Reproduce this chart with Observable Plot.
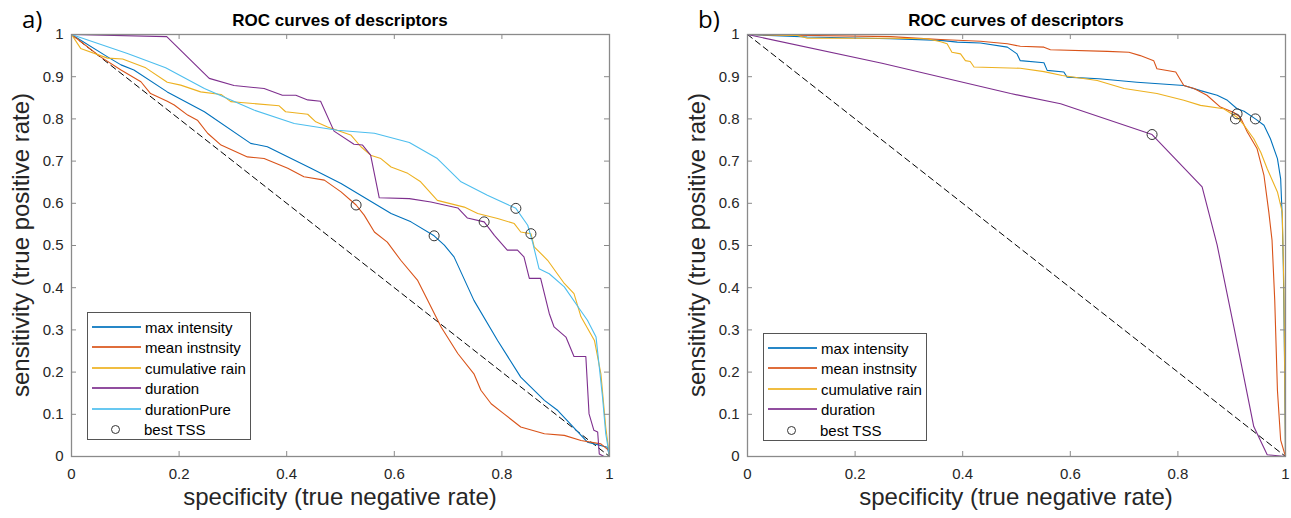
<!DOCTYPE html>
<html><head><meta charset="utf-8">
<script src="https://cdn.jsdelivr.net/npm/d3@7"></script>
<script src="https://cdn.jsdelivr.net/npm/@observablehq/plot@0.6"></script>
<style>
body{margin:0;background:#fff;font-family:"Liberation Sans",Arial,sans-serif;}
#root{position:relative;width:1291px;height:518px;overflow:hidden;background:#fff}
.panel{position:absolute;top:0}
.t{position:absolute;white-space:nowrap;color:#000;transform:translate(-50%,-50%);line-height:1}
.legend{position:absolute;border:1px solid #555;background:#fff;font-size:15px;color:#000;box-sizing:border-box}
.row{position:absolute;left:0;height:20px;display:flex;align-items:center}
.sw{width:49px;height:2px;margin-left:4px;margin-right:4px;opacity:0.85}
.circ{width:9px;height:9px;border:1px solid #333;border-radius:50%;margin-left:23px;margin-right:24px;box-sizing:border-box}
</style></head><body><div id="root"></div>
<script>
// ---------- data ----------
const seriesA = ["max intensity","mean instnsity","cumulative rain","duration","durationPure"];
const seriesB = ["max intensity","mean instnsity","cumulative rain","duration"];
const colors = ["#0072BD","#D95319","#EDB120","#7E2F8E","#4DBEEE"];
const xTicks = [0,0.2,0.4,0.6,0.8,1];
const yTicks = [0,0.1,0.2,0.3,0.4,0.5,0.6,0.7,0.8,0.9,1];
const diagX = [0,1], diagY = [1,0];

// panel a
const aMaxX = [0,0.067,0.092,0.116,0.178,0.247,0.333,0.364,0.445,0.501,0.594,0.631,0.674,0.693,0.711,0.748,0.792,0.835,0.879,0.904,0.959,0.996,1];
const aMaxY = [1,0.947,0.928,0.916,0.864,0.817,0.742,0.734,0.683,0.647,0.576,0.556,0.523,0.501,0.473,0.370,0.275,0.188,0.133,0.109,0.034,0.022,0];
const aMeanX = [0,0.054,0.092,0.129,0.147,0.178,0.191,0.216,0.234,0.253,0.278,0.327,0.358,0.402,0.432,0.470,0.501,0.529,0.544,0.563,0.587,0.612,0.643,0.662,0.687,0.718,0.748,0.761,0.780,0.804,0.835,0.879,0.916,0.947,0.984,0.999,1];
const aMeanY = [1,0.947,0.916,0.888,0.860,0.842,0.833,0.809,0.797,0.766,0.738,0.710,0.706,0.683,0.663,0.655,0.627,0.596,0.572,0.532,0.508,0.465,0.418,0.370,0.307,0.244,0.196,0.157,0.125,0.101,0.070,0.054,0.050,0.038,0.030,0.014,0];
const aCumX = [0,0.017,0.067,0.095,0.138,0.178,0.203,0.240,0.278,0.296,0.315,0.386,0.398,0.439,0.454,0.476,0.519,0.538,0.556,0.575,0.594,0.625,0.649,0.680,0.730,0.755,0.792,0.823,0.835,0.854,0.860,0.885,0.916,0.934,0.947,0.972,0.984,0.993,1];
const aCumY = [1,0.967,0.944,0.942,0.921,0.887,0.880,0.864,0.858,0.841,0.839,0.831,0.817,0.811,0.793,0.781,0.762,0.734,0.714,0.706,0.686,0.671,0.651,0.607,0.591,0.576,0.564,0.552,0.532,0.528,0.497,0.465,0.410,0.386,0.331,0.275,0.196,0.070,0];
const aDurX = [0,0.177,0.256,0.302,0.358,0.392,0.417,0.439,0.463,0.488,0.525,0.541,0.556,0.572,0.628,0.668,0.718,0.736,0.767,0.786,0.81,0.829,0.841,0.851,0.872,0.888,0.897,0.919,0.934,0.956,0.962,0.971,0.978,0.981,0.99,1];
const aDurY = [1,0.995,0.896,0.879,0.872,0.856,0.856,0.845,0.842,0.771,0.740,0.738,0.714,0.613,0.611,0.603,0.589,0.565,0.556,0.524,0.489,0.489,0.473,0.422,0.422,0.339,0.307,0.283,0.237,0.237,0.101,0.062,0.058,0.006,0,0];
const aPureX = [0,0.104,0.175,0.247,0.339,0.414,0.494,0.563,0.628,0.680,0.724,0.773,0.826,0.848,0.857,0.869,0.888,0.916,0.944,0.959,0.975,0.981,0.987,0.993,1];
const aPureY = [1,0.955,0.921,0.872,0.821,0.789,0.773,0.766,0.744,0.706,0.651,0.619,0.588,0.548,0.508,0.445,0.433,0.402,0.350,0.323,0.283,0.212,0.141,0.054,0];
const aBestX = [0.529,0.674,0.767,0.826,0.854];
const aBestY = [0.596,0.523,0.556,0.588,0.528];

// panel b
const bMaxX = [0,0.111,0.266,0.359,0.390,0.433,0.483,0.501,0.507,0.551,0.557,0.588,0.594,0.653,0.724,0.811,0.842,0.873,0.892,0.910,0.923,0.944,0.960,0.972,0.985,0.991,0.994,0.996,0.998,1];
const bMaxY = [1,0.994,0.990,0.986,0.982,0.980,0.970,0.954,0.938,0.933,0.915,0.911,0.899,0.895,0.887,0.879,0.867,0.856,0.844,0.824,0.818,0.800,0.785,0.753,0.706,0.658,0.564,0.45,0.25,0];
const bMeanX = [0,0.266,0.359,0.433,0.483,0.507,0.551,0.563,0.669,0.709,0.730,0.755,0.761,0.796,0.811,0.830,0.854,0.879,0.904,0.916,0.929,0.947,0.960,0.969,0.975,0.980,0.985,0.991,1];
const bMeanY = [1,0.995,0.988,0.984,0.978,0.972,0.970,0.964,0.960,0.958,0.950,0.938,0.919,0.911,0.879,0.872,0.856,0.828,0.815,0.804,0.769,0.730,0.666,0.579,0.512,0.370,0.157,0.039,0];
const bCumX = [0,0.092,0.111,0.266,0.334,0.359,0.371,0.380,0.396,0.405,0.414,0.421,0.507,0.551,0.585,0.650,0.700,0.761,0.811,0.842,0.885,0.910,0.923,0.941,0.954,0.966,0.985,0.994,0.997,1];
const bCumY = [1,0.998,0.991,0.991,0.990,0.983,0.978,0.958,0.954,0.938,0.936,0.923,0.920,0.912,0.903,0.891,0.872,0.860,0.844,0.832,0.824,0.804,0.785,0.753,0.721,0.682,0.627,0.579,0.4,0];
const bDurX = [0,0.25,0.489,0.582,0.752,0.845,0.873,0.904,0.941,0.966,1];
const bDurY = [1,0.932,0.860,0.836,0.763,0.639,0.501,0.307,0.071,0.004,0];
const bBestX = [0.752,0.907,0.910,0.944];
const bBestY = [0.763,0.800,0.812,0.800];

// ---------- build ----------
function rows(names, xs, ys) {
  const out = [];
  names.forEach((n, i) => xs[i].forEach((x, j) => out.push({s: n, x, y: ys[i][j]})));
  return out;
}
const zip = (xs, ys) => xs.map((x, i) => ({x, y: ys[i]}));

const H = 518, MT = 34, MB = 62;
const axisCol = "#8a8a8a";

function panel(width, ml, mr, names, lineRows, best) {
  const pw = width - ml - mr, ph = H - MT - MB;
  return Plot.plot({
    width, height: H, marginLeft: ml, marginRight: mr, marginTop: MT, marginBottom: MB,
    x: {domain: [0, 1]}, y: {domain: [0, 1]},
    color: {domain: names, range: colors.slice(0, names.length)},
    style: {fontFamily: "Liberation Sans, Arial, sans-serif", fontSize: "15px", color: "#262626", background: "#fff"},
    marks: [
      Plot.line(zip(diagX, diagY), {x: "x", y: "y", stroke: "#000", strokeWidth: 1, strokeDasharray: "6,4"}),
      Plot.line(lineRows, {x: "x", y: "y", z: "s", stroke: "s", strokeWidth: 1.1}),
      Plot.dot(best, {x: "x", y: "y", r: 5, stroke: "#333", fill: "none", strokeWidth: 1}),
      Plot.frame({stroke: axisCol, strokeWidth: 1.3}),
      Plot.tickX(xTicks, {x: d => d, frameAnchor: "bottom", insetTop: ph - 5, stroke: axisCol}),
      Plot.tickX(xTicks, {x: d => d, frameAnchor: "top", insetBottom: ph - 5, stroke: axisCol}),
      Plot.tickY(yTicks, {y: d => d, insetRight: pw - 5, stroke: axisCol}),
      Plot.tickY(yTicks, {y: d => d, insetLeft: pw - 5, stroke: axisCol}),
      Plot.axisX({ticks: xTicks, tickSize: 0, tickPadding: 12, label: null, tickFormat: d => String(d)}),
      Plot.axisY({ticks: yTicks, tickSize: 0, tickPadding: 8, label: null, tickFormat: d => String(d)})
    ]
  });
}

const root = document.getElementById("root");
function place(el, left) { el.classList.add("panel"); el.style.left = left + "px"; root.appendChild(el); }

const linesA = rows(seriesA, [aMaxX, aMeanX, aCumX, aDurX, aPureX], [aMaxY, aMeanY, aCumY, aDurY, aPureY]);
const linesB = rows(seriesB, [bMaxX, bMeanX, bCumX, bDurX], [bMaxY, bMeanY, bCumY, bDurY]);
place(panel(640, 71, 31, seriesA, linesA, zip(aBestX, aBestY)), 0);
place(panel(651, 107, 6, seriesB, linesB, zip(bBestX, bBestY)), 640);

function txt(s, x, y, css) {
  const d = document.createElement("div");
  d.className = "t"; d.textContent = s; d.style.left = x + "px"; d.style.top = y + "px";
  Object.assign(d.style, css || {});
  root.appendChild(d);
  return d;
}
const titleCss = {fontWeight: "bold", fontSize: "17px"};
const labCss = {fontSize: "24px", color: "#262626"};
txt("ROC curves of descriptors", 340, 20, titleCss);
txt("ROC curves of descriptors", 1016, 20, titleCss);
txt("specificity (true negative rate)", 340, 497, labCss);
txt("specificity (true negative rate)", 1016, 497, labCss);
txt("sensitivity (true positive rate)", 21, 245, Object.assign({transform: "translate(-50%,-50%) rotate(-90deg)"}, labCss));
txt("sensitivity (true positive rate)", 697, 245, Object.assign({transform: "translate(-50%,-50%) rotate(-90deg)"}, labCss));
const tagCss = {fontFamily: "'Open Sans', 'Noto Sans', sans-serif", fontSize: "24px", transform: "none"};
txt("a)", 22, 7, tagCss);
txt("b)", 698, 7, tagCss);

function legend(left, top, w, names) {
  const L = document.createElement("div");
  L.className = "legend";
  const n = names.length + 1;
  Object.assign(L.style, {left: left + "px", top: top + "px", width: w + "px", height: Math.round(n * 20.4 + 6) + "px"});
  names.forEach((nm, i) => {
    const r = document.createElement("div");
    r.className = "row"; r.style.top = Math.round(4 + i * 20.4) + "px";
    const sw = document.createElement("div"); sw.className = "sw"; sw.style.background = colors[i];
    const t = document.createElement("span"); t.textContent = nm;
    r.appendChild(sw); r.appendChild(t); L.appendChild(r);
  });
  const r = document.createElement("div");
  r.className = "row"; r.style.top = Math.round(4 + names.length * 20.4) + "px";
  const c = document.createElement("div"); c.className = "circ";
  const t = document.createElement("span"); t.textContent = "best TSS";
  r.appendChild(c); r.appendChild(t); L.appendChild(r);
  root.appendChild(L);
}
legend(87, 312, 164, seriesA);
legend(763, 333, 164, seriesB);
</script></body></html>
